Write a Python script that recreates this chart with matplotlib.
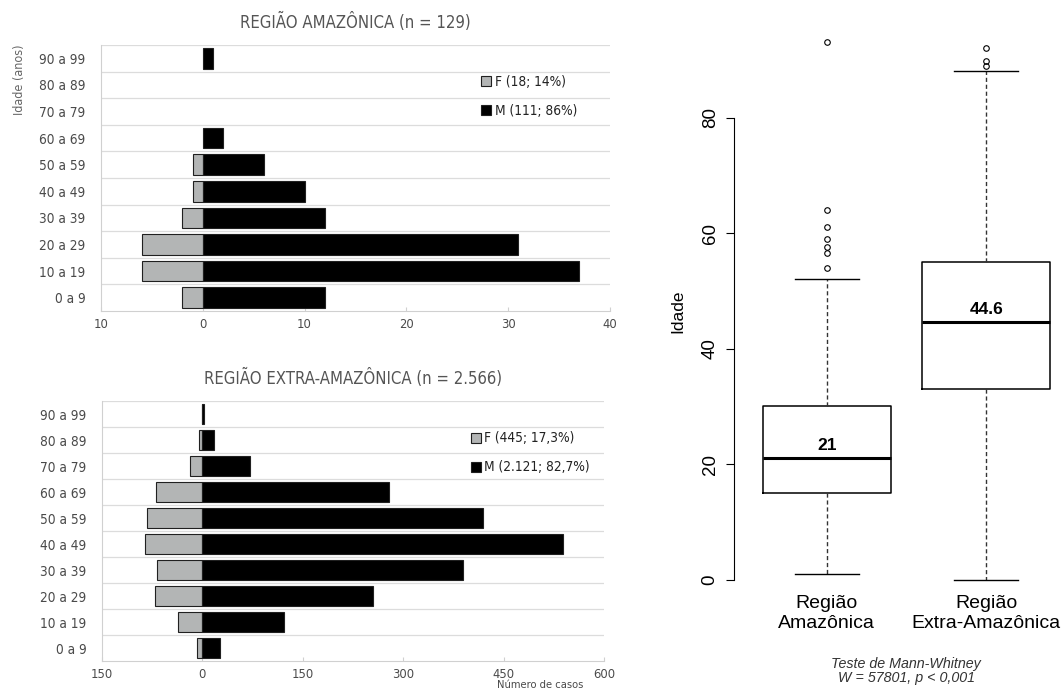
import matplotlib.pyplot as plt
from matplotlib.ticker import FuncFormatter, FixedLocator
from matplotlib.patches import Patch

# age groups, bottom to top
faixas = ["0 a 9", "10 a 19", "20 a 29", "30 a 39", "40 a 49",
          "50 a 59", "60 a 69", "70 a 79", "80 a 89", "90 a 99"]

# Amazon region (n = 129)
amaz_f = [2, 6, 6, 2, 1, 1, 0, 0, 0, 0]
amaz_m = [12, 37, 31, 12, 10, 6, 2, 0, 0, 1]

# extra-Amazon region (n = 2.566)
extra_f = [8, 36, 71, 68, 86, 83, 69, 18, 5, 1]
extra_m = [27, 122, 255, 389, 539, 419, 279, 71, 18, 2]

# boxplot summary (idade)
grupos = ["Região\nAmazônica", "Região\nExtra-Amazônica"]
box_q1 = [15, 33]
box_med = [21, 44.6]
box_q3 = [30, 55]
wh_lo = [1, 0]
wh_hi = [52, 88]
outliers = [[54, 56.5, 57.5, 59, 61, 64, 93], [89, 89.8, 92]]

cinza = "#b3b5b5"
txt = "#4a4a4a"
cond = dict(family="DejaVu Sans", stretch="condensed")
plt.rcParams['font.family'] = ["Liberation Sans", "DejaVu Sans"]

fig = plt.figure(figsize=(10.63, 6.91), dpi=100)
W, H = 1063, 691


def pyramid(rect, fem, masc, xlim, step, titulo, leg_f, leg_m, leg_y):
    ax = fig.add_axes([rect[0] / W, 1 - rect[3] / H,
                       (rect[2] - rect[0]) / W, (rect[3] - rect[1]) / H])
    y = list(range(len(faixas)))
    ax.barh(y, [-v for v in fem], height=0.78, color=cinza,
            edgecolor="#202020", linewidth=[0.8 if v else 0 for v in fem],
            zorder=3)
    ax.barh(y, masc, height=0.78, color="black",
            edgecolor="#202020", linewidth=[0.8 if v else 0 for v in masc],
            zorder=3)
    ax.set_xlim(*xlim)
    ax.set_ylim(-0.5, len(faixas) - 0.5)
    ticks = list(range(xlim[0], xlim[1] + 1, step))
    ax.xaxis.set_major_locator(FixedLocator(ticks))
    ax.xaxis.set_major_formatter(FuncFormatter(lambda v, p: f"{abs(int(v))}"))
    ax.set_yticks(y)
    ax.set_yticklabels(faixas)
    for b in [i - 0.5 for i in range(1, len(faixas) + 1)]:
        ax.axhline(b, color="#dcdcdc", lw=0.9, zorder=1)
    for s in ["top", "right"]:
        ax.spines[s].set_visible(False)
    ax.spines["left"].set_color("#d0d0d0")
    ax.spines["bottom"].set_color("#d0d0d0")
    ax.tick_params(axis="y", length=0, pad=11, labelsize=9.8,
                   labelcolor=txt)
    ax.tick_params(axis="x", length=3, direction="in", color="#d0d0d0",
                   labelsize=9.3, labelcolor=txt, pad=5)
    for lbl in ax.get_xticklabels() + ax.get_yticklabels():
        lbl.set_family(cond["family"])
        lbl.set_stretch(cond["stretch"])
    ax.set_title(titulo, fontsize=12, color="#555555", pad=12, **cond)
    handles = [Patch(facecolor=cinza, edgecolor="#202020", lw=0.8, label=leg_f),
               Patch(facecolor="black", edgecolor="#202020", lw=0.8, label=leg_m)]
    lg = ax.legend(handles=handles, loc="upper left", bbox_to_anchor=leg_y,
                   frameon=False, handlelength=0.75, handleheight=0.75,
                   handletextpad=0.25, labelspacing=1.1,
                   prop={"family": cond["family"], "stretch": cond["stretch"],
                         "size": 9.8})
    for t in lg.get_texts():
        t.set_color("#222222")
    return ax


ax1 = pyramid((101, 45, 610, 311), amaz_f, amaz_m, (-10, 40), 10,
              "REGIÃO AMAZÔNICA (n = 129)", "F (18; 14%)", "M (111; 86%)",
              (0.723, 0.935))
ax1.set_ylabel("Idade (anos)", fontsize=9, color="#666666", **cond)
ax1.yaxis.set_label_coords(-0.148, 0.87)

ax2 = pyramid((102, 401, 604, 661), extra_f, extra_m, (-150, 600), 150,
              "REGIÃO EXTRA-AMAZÔNICA (n = 2.566)", "F (445; 17,3%)",
              "M (2.121; 82,7%)", (0.71, 0.93))
fig.text(540 / W, 1 - 690 / H, "Número de casos", fontsize=8, color=txt,
         ha="center", va="bottom", **cond)

# boxplot panel
ax3 = fig.add_axes([734 / W, 1 - 601 / H, (W - 734) / W, 580 / H])
stats = []
for i in range(len(grupos)):
    stats.append({"med": box_med[i], "q1": box_q1[i], "q3": box_q3[i],
                  "whislo": wh_lo[i], "whishi": wh_hi[i],
                  "fliers": outliers[i]})
ax3.bxp(stats, positions=[1, 2], widths=0.8,
        boxprops=dict(color="black", lw=1.1),
        medianprops=dict(color="black", lw=2.2),
        whiskerprops=dict(color="#333333", lw=1.0, ls=(0, (3, 2))),
        capprops=dict(color="black", lw=1.0), capwidths=0.4,
        flierprops=dict(marker="o", markerfacecolor="none",
                        markeredgecolor="black", markersize=4, mew=0.8))
for i in range(len(grupos)):
    ax3.text(i + 1, box_med[i] + 0.9, f"{box_med[i]:g}", ha="center",
             va="bottom", fontsize=12.5, fontweight="bold")
ax3.set_xlim(0.42, 2.48)
ax3.set_ylim(-3.72, 96.72)
for s in ["top", "right", "bottom"]:
    ax3.spines[s].set_visible(False)
ax3.spines["left"].set_bounds(0, 80)
ax3.set_yticks([0, 20, 40, 60, 80])
ax3.tick_params(axis="y", length=6, labelsize=13.5, pad=5)
for lbl in ax3.get_yticklabels():
    lbl.set_rotation(90)
    lbl.set_va("center")
ax3.set_xticks([1, 2])
ax3.set_xticklabels(grupos, fontsize=14, linespacing=1.2)
ax3.tick_params(axis="x", length=0, pad=-4)
ax3.set_ylabel("Idade", fontsize=12.5, labelpad=12)
fig.text(906 / W, 1 - 671 / H, "Teste de Mann-Whitney\nW = 57801, p < 0,001",
         fontsize=10.3, style="italic", color="#333333", ha="center",
         va="center", linespacing=1.05)

fig.savefig("out.png", dpi=100)
